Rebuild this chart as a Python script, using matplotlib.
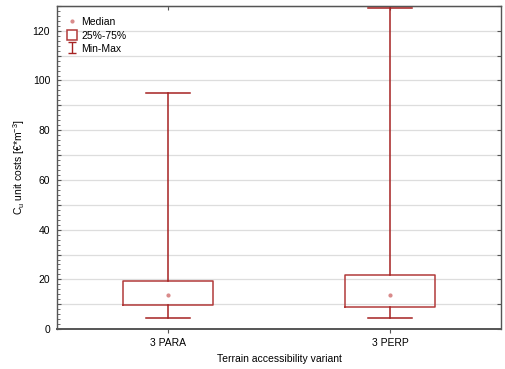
import matplotlib
matplotlib.use("Agg")
import matplotlib.pyplot as plt
from matplotlib.lines import Line2D
from matplotlib.patches import Rectangle
from matplotlib.ticker import MultipleLocator

plt.rcParams['font.family'] = ['Liberation Sans', 'DejaVu Sans']
plt.rcParams['font.size'] = 7.5

variants = ["3 PARA", "3 PERP"]
mins = [4.5, 4.3]
q1s = [9.8, 9.1]
medians = [13.7, 13.7]
q3s = [19.5, 21.6]
maxs = [94.8, 129.0]

BOX = "#b23a3a"
WHISK = "#a52222"
MED = "#d98a8a"
FRAME = "#555555"

fig = plt.figure(figsize=(5.05, 3.69), dpi=100)
ax = fig.add_axes([0.113, 0.108, 0.879, 0.876])

stats = []
for name, lo, a, m, b, hi in zip(variants, mins, q1s, medians, q3s, maxs):
    stats.append(dict(label=name, whislo=lo, q1=a, med=m, q3=b, whishi=hi, fliers=[]))

pos = list(range(1, len(variants) + 1))
ax.bxp(stats, positions=pos, widths=0.405, showfliers=False,
       boxprops=dict(color=BOX, linewidth=1.1),
       whiskerprops=dict(color=WHISK, linewidth=1.1),
       capprops=dict(color=WHISK, linewidth=1.1),
       capwidths=0.2,
       medianprops=dict(linewidth=0), zorder=3)
ax.plot(pos, medians, ls='none', marker='o', ms=2, color=MED, zorder=4)

ax.set_xlim(0.5, len(variants) + 0.5)
ax.set_ylim(0, 130)
ax.yaxis.set_minor_locator(MultipleLocator(2))
ax.set_yticks(range(0, 131, 10))
ax.set_yticklabels([str(v) if v % 20 == 0 else "" for v in range(0, 131, 10)])
ax.grid(axis='y', color='#dddddd', linewidth=0.9, zorder=0)
ax.set_axisbelow(True)

# y ticks point inward on both sides, minor ticks only on the left
ax.tick_params(axis='y', which='major', length=3, color=FRAME, right=True, direction='in', pad=5)
ax.tick_params(axis='y', which='minor', length=2.5, color=FRAME, direction='in', right=False)
ax.tick_params(axis='x', which='major', length=3, color=FRAME, direction='out', bottom=True)
for s in ax.spines.values():
    s.set_color(FRAME)
    s.set_linewidth(1.0)
ax.spines['bottom'].set_linewidth(1.4)

# top axis: inward ticks at each variant
top = ax.secondary_xaxis('top')
top.set_xticks(pos)
top.set_xticklabels([])
top.tick_params(direction='in', length=3, color=FRAME)
top.spines['top'].set_color(FRAME)

ax.set_xlabel("Terrain accessibility variant", labelpad=4)
ax.set_ylabel(r"C$_\mathregular{u}$ unit costs [€*m$^\mathregular{-3}$]", labelpad=4)

eb = ax.errorbar([-5], [-5], yerr=[[1], [1]], fmt='none', ecolor=WHISK, capsize=3, elinewidth=1.0)
handles = [
    Line2D([], [], ls='none', marker='o', ms=2, color=MED),
    Rectangle((0, 0), 1, 1, facecolor='white', edgecolor=BOX, linewidth=1.1),
    eb,
]
leg = ax.legend(handles, ["Median", "25%-75%", "Min-Max"], loc='upper left',
                frameon=False, handlelength=0.9, handleheight=1.2, handletextpad=0.4,
                labelspacing=0.25, borderaxespad=0.6, fontsize=7.5)

fig.savefig("out.png", dpi=100)
